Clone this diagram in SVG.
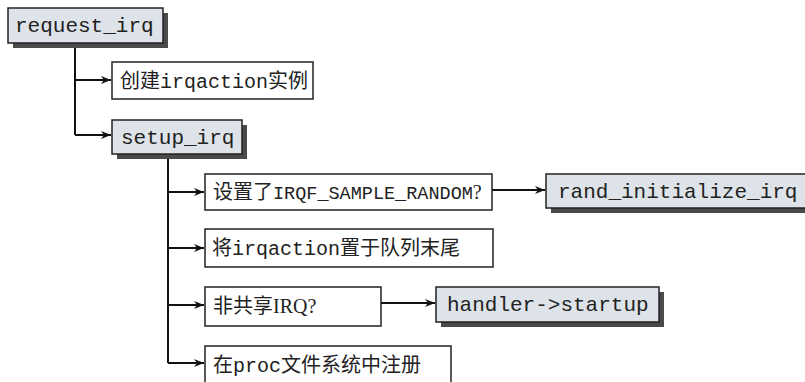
<svg xmlns="http://www.w3.org/2000/svg" width="805" height="382" viewBox="0 0 805 382">
<style>
.shadow{fill:#4a4a4a;stroke:none}
.gbox{fill:#dde3e8;stroke:#222;stroke-width:1.5}
.wbox{fill:#fff;stroke:#222;stroke-width:1.5}
.code{font-family:"Liberation Mono","DejaVu Sans Mono",monospace;font-size:21px;fill:#222}
.cn{font-family:"Liberation Serif","Noto Sans CJK SC",serif;font-size:20px;fill:#222}
.mono{font-family:"Liberation Mono","Noto Sans CJK SC",monospace}
.conn{fill:none;stroke:#111;stroke-width:2}
</style>
<defs>
<marker id="arr" viewBox="0 0 10 8" refX="10" refY="4" markerWidth="10" markerHeight="8" markerUnits="userSpaceOnUse" orient="auto">
<path d="M0,0 L10,4 L0,8 L3,4 Z" fill="#111"/>
</marker>
</defs>
<rect width="805" height="382" fill="#fff"/>
<g id="connectors">
<path class="conn" d="M75,43 V135"/>
<path class="conn" d="M75,80 H111" marker-end="url(#arr)"/>
<path class="conn" d="M75,135 H111" marker-end="url(#arr)"/>
<path class="conn" d="M168,154 V363"/>
<path class="conn" d="M168,192 H204" marker-end="url(#arr)"/>
<path class="conn" d="M168,248 H204" marker-end="url(#arr)"/>
<path class="conn" d="M168,305 H204" marker-end="url(#arr)"/>
<path class="conn" d="M168,363 H204" marker-end="url(#arr)"/>
<path class="conn" d="M492,190 H545" marker-end="url(#arr)"/>
<path class="conn" d="M381,303 H435" marker-end="url(#arr)"/>
</g>
<g id="request_irq">
<rect class="shadow" x="13" y="13" width="155" height="35"/>
<rect class="gbox" x="8" y="8" width="155" height="35"/>
<text class="code" x="15" y="32">request_irq</text>
</g>
<g id="create_irqaction">
<rect class="wbox" x="112" y="62" width="201" height="37"/>
<text class="cn" x="120" y="88">创建<tspan class="mono">irqaction</tspan>实例</text>
</g>
<g id="setup_irq">
<rect class="shadow" x="117" y="125" width="130" height="34"/>
<rect class="gbox" x="112" y="120" width="130" height="34"/>
<text class="code" x="121" y="144">setup_irq</text>
</g>
<g id="sample_random">
<rect class="wbox" x="205" y="174" width="287" height="36"/>
<text class="cn" x="213" y="199">设置了<tspan class="mono" font-size="18.5">IRQF_SAMPLE_RANDOM</tspan>?</text>
</g>
<g id="rand_initialize_irq">
<rect class="shadow" x="551" y="179" width="262" height="34"/>
<rect class="gbox" x="546" y="174" width="262" height="34"/>
<text class="code" x="558" y="198">rand_initialize_irq</text>
</g>
<g id="enqueue">
<rect class="wbox" x="205" y="229" width="288" height="38"/>
<text class="cn" x="212" y="255">将<tspan class="mono">irqaction</tspan>置于队列末尾</text>
</g>
<g id="not_shared">
<rect class="wbox" x="205" y="287" width="176" height="39"/>
<text class="cn" x="213" y="313">非共享IRQ?</text>
</g>
<g id="handler_startup">
<rect class="shadow" x="441" y="292" width="223" height="35"/>
<rect class="gbox" x="436" y="287" width="223" height="35"/>
<text class="code" x="447" y="311">handler-&gt;startup</text>
</g>
<g id="proc_register">
<rect class="wbox" x="205" y="346" width="246" height="40"/>
<text class="cn" x="213" y="372">在<tspan class="mono">proc</tspan>文件系统中注册</text>
</g>
</svg>
